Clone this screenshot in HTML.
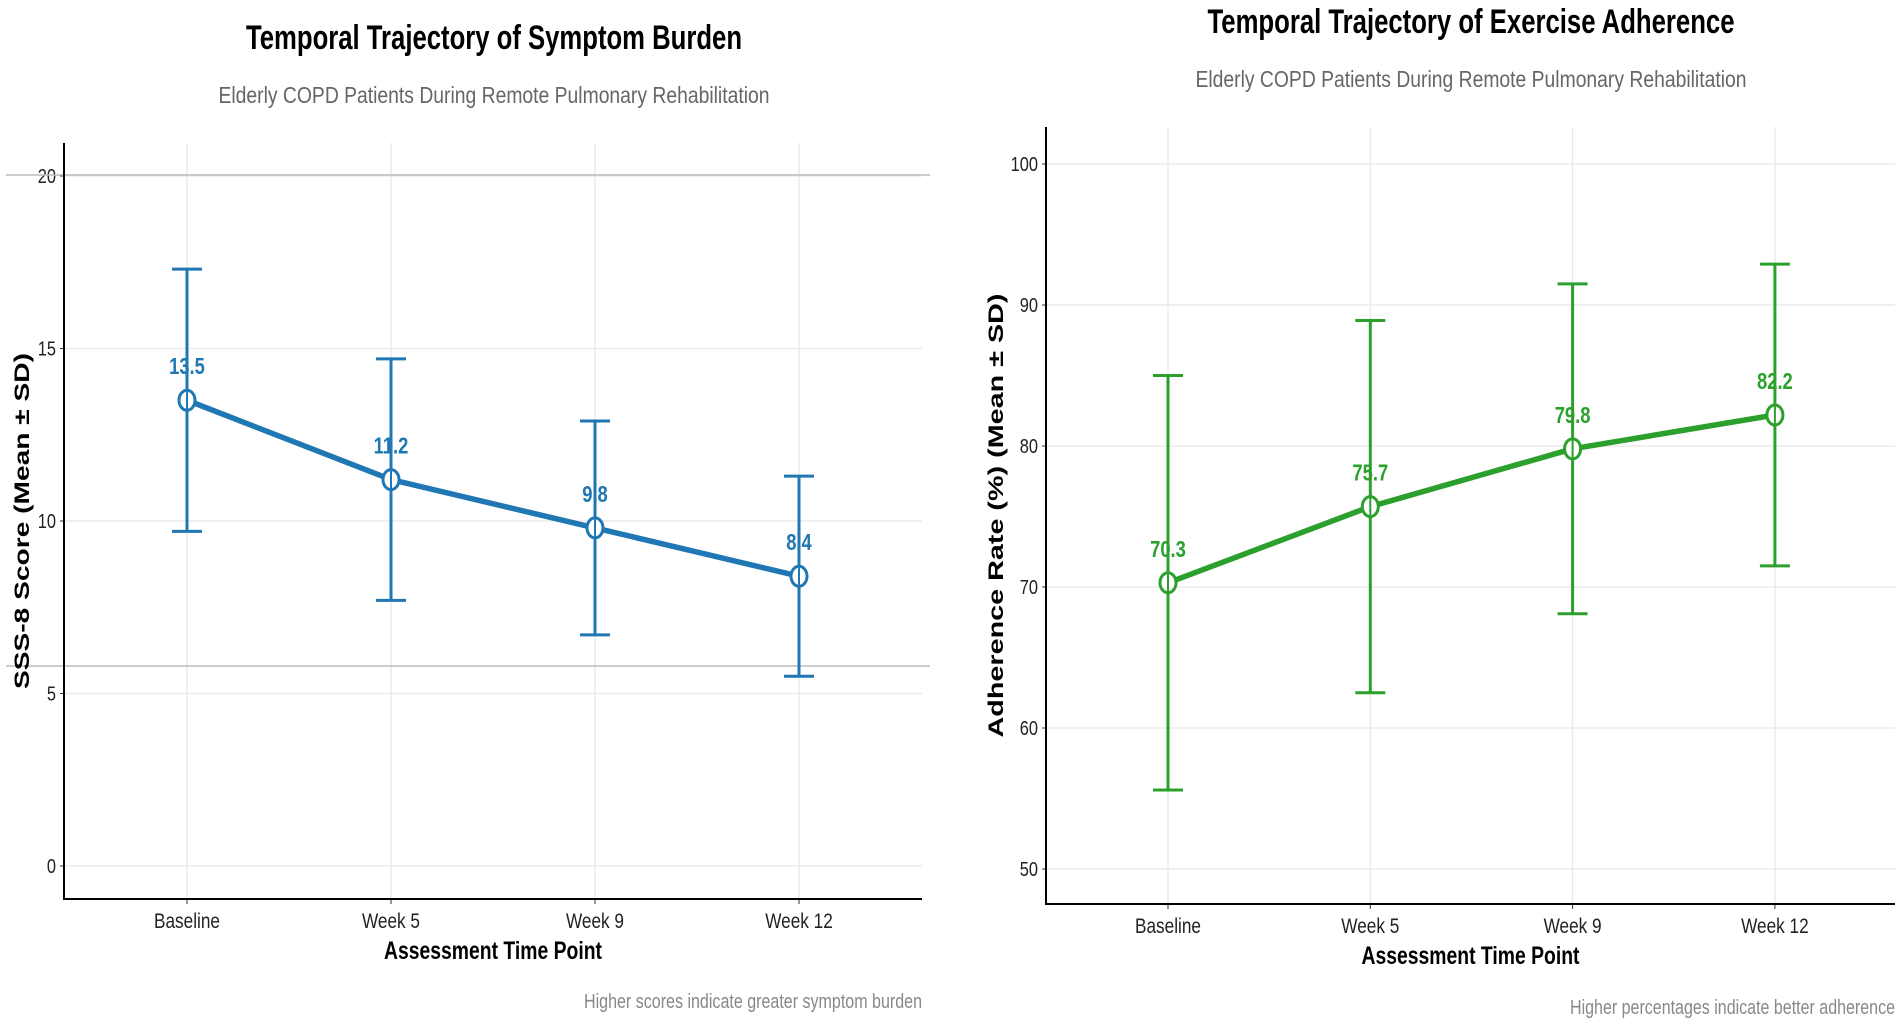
<!DOCTYPE html>
<html><head><meta charset="utf-8"><style>
body{margin:0;background:#fff;}
svg{display:block;font-family:"Liberation Sans Narrow","Liberation Sans",sans-serif;}
</style></head><body>
<svg id="chart" width="1902" height="1026" viewBox="0 0 1902 1026"></svg>
<script>
const categories = ["Baseline","Week 5","Week 9","Week 12"];
const symptomMeans = [13.5, 11.2, 9.8, 8.4];
const symptomSD = [3.8, 3.5, 3.1, 2.9];
const symptomTicks = [0, 5, 10, 15, 20];
const adherenceMeans = [70.3, 75.7, 79.8, 82.2];
const adherenceSD = [14.7, 13.2, 11.7, 10.7];
const adherenceTicks = [50, 60, 70, 80, 90, 100];

const NS = "http://www.w3.org/2000/svg";
const svg = document.getElementById("chart");
function mk(tag, attrs, parent, text){
  const e = document.createElementNS(NS, tag);
  for (const k in attrs) e.setAttribute(k, attrs[k]);
  if (text !== undefined) e.textContent = text;
  (parent || svg).appendChild(e);
  return e;
}
function squeeze(e, x, f){
  e.setAttribute("transform", `translate(${x} 0) scale(${f} 1) translate(${-x} 0)`);
}

function panel(cfg){
  const g = mk("g", {});
  
  
  const y = v => cfg.y0px + (v - cfg.v0) * (cfg.y1px - cfg.y0px) / (cfg.v1 - cfg.v0);
  const x = i => cfg.x0 + i * cfg.dx;
  cfg.ticks.forEach(t => {
    const l = mk("line", {x1: cfg.axL, x2: cfg.axR, y1: y(t), y2: y(t), stroke: "#ebebeb", "stroke-width": 1.5}, g);
    
    
    const tl = mk("text", {x: cfg.axL - 8, y: y(t) + 7, "text-anchor": "end", "font-size": 20, fill: "#222"}, g, String(t));
    
    
    squeeze(tl, cfg.axL - 8, 0.82);
    mk("line", {x1: cfg.axL - 4, x2: cfg.axL, y1: y(t), y2: y(t), stroke: "#333", "stroke-width": 1}, g);
  });
  categories.forEach((c, i) => {
    const l = mk("line", {x1: x(i), x2: x(i), y1: cfg.axT, y2: cfg.axB, stroke: "#ebebeb", "stroke-width": 1.5}, g);
    
    
    mk("line", {x1: x(i), x2: x(i), y1: cfg.axB, y2: cfg.axB + 5, stroke: "#333", "stroke-width": 1}, g);
    const tl = mk("text", {x: x(i), y: cfg.axB + 29, "text-anchor": "middle", "font-size": 21, fill: "#222"}, g, c);
    
    
    squeeze(tl, x(i), 0.82);
  });
  if (cfg.extraLines) cfg.extraLines.forEach(ly => {
    const l = mk("line", {x1: cfg.axL - 58, x2: cfg.axR + 8, y1: ly, y2: ly, stroke: "#bbb", "stroke-width": 1.5}, g);
    
    
  });
  const ax = mk("path", {d: `M${cfg.axL},${cfg.axT} V${cfg.axB} H${cfg.axR}`, fill: "none", stroke: "#000", "stroke-width": 2}, g);
  
  
  cfg.means.forEach((m, i) => {
    const s = cfg.sd[i];
    const eb = mk("path", {d: `M${x(i)},${y(m - s)} V${y(m + s)} M${x(i)-15},${y(m + s)} H${x(i)+15} M${x(i)-15},${y(m - s)} H${x(i)+15}`, fill: "none", stroke: cfg.color, "stroke-width": 3}, g);
    
    
  });
  const pts = cfg.means.map((m, i) => `${x(i)},${y(m)}`).join(" ");
  const ln = mk("polyline", {points: pts, fill: "none", stroke: cfg.color, "stroke-width": 5.5, "stroke-linejoin": "round"}, g);
  
  
  cfg.means.forEach((m, i) => {
    const c = mk("ellipse", {cx: x(i), cy: y(m), rx: 8, ry: 10, fill: "#fff", stroke: cfg.color, "stroke-width": 3}, g);
    
    
    mk("line", {x1: x(i), x2: x(i), y1: y(m) - 9, y2: y(m) + 9, stroke: cfg.color, "stroke-width": 2}, g);
    const vl = mk("text", {x: x(i), y: y(m) - 26, "text-anchor": "middle", "font-size": 23, "font-weight": "bold", fill: cfg.color}, g, m.toFixed(1));
    
    
    squeeze(vl, x(i), 0.8);
  });
  const t = mk("text", {x: cfg.titleX, y: cfg.titleY, "text-anchor": "middle", "font-size": 34, "font-weight": "bold", fill: "#000", textLength: cfg.titleW, lengthAdjust: "spacingAndGlyphs"}, g, cfg.title);
  
  
  const st = mk("text", {x: cfg.titleX, y: cfg.titleY + 54, "text-anchor": "middle", "font-size": 23, fill: "#666", textLength: 551, lengthAdjust: "spacingAndGlyphs"}, g, "Elderly COPD Patients During Remote Pulmonary Rehabilitation");
  
  
  const xt = mk("text", {x: (cfg.axL + cfg.axR) / 2, y: cfg.axB + 60, "text-anchor": "middle", "font-size": 25, "font-weight": "bold", fill: "#000", textLength: 218, lengthAdjust: "spacingAndGlyphs"}, g, "Assessment Time Point");
  
  
  const yc = (cfg.axT + cfg.axB) / 2;
  const yt = mk("text", {x: cfg.yTitleX, y: yc, "text-anchor": "middle", "font-size": 21, "font-weight": "bold", fill: "#000", "font-family": "Liberation Sans, sans-serif", textLength: cfg.yTitleW, lengthAdjust: "spacingAndGlyphs", transform: `rotate(-90 ${cfg.yTitleX} ${yc})`}, g, cfg.yTitle);
  
  
  const cp = mk("text", {x: cfg.axR, y: cfg.captionY, "text-anchor": "end", "font-size": 20, fill: "#888", textLength: cfg.captionW, lengthAdjust: "spacingAndGlyphs"}, g, cfg.caption);
  
  
}

panel({name: "symptom-panel", means: symptomMeans, sd: symptomSD, ticks: symptomTicks, color: "#1f77b4",
  v0: 0, v1: 20, y0px: 866, y1px: 176, x0: 187, dx: 204, axL: 64, axR: 922, axT: 143, axB: 899,
  title: "Temporal Trajectory of Symptom Burden", titleW: 496, titleX: 494, titleY: 49,
  yTitle: "SSS-8 Score (Mean ± SD)", yTitleW: 336, yTitleX: 29, caption: "Higher scores indicate greater symptom burden", captionW: 338, captionY: 1008,
  extraLines: [175, 666]});
panel({name: "adherence-panel", means: adherenceMeans, sd: adherenceSD, ticks: adherenceTicks, color: "#2ca02c",
  v0: 50, v1: 100, y0px: 869, y1px: 164, x0: 1168, dx: 202.3, axL: 1046, axR: 1895, axT: 127, axB: 904,
  title: "Temporal Trajectory of Exercise Adherence", titleW: 527, titleX: 1471, titleY: 33,
  yTitle: "Adherence Rate (%) (Mean ± SD)", yTitleW: 444, yTitleX: 1003, caption: "Higher percentages indicate better adherence", captionW: 325, captionY: 1014});
</script>
</body></html>
